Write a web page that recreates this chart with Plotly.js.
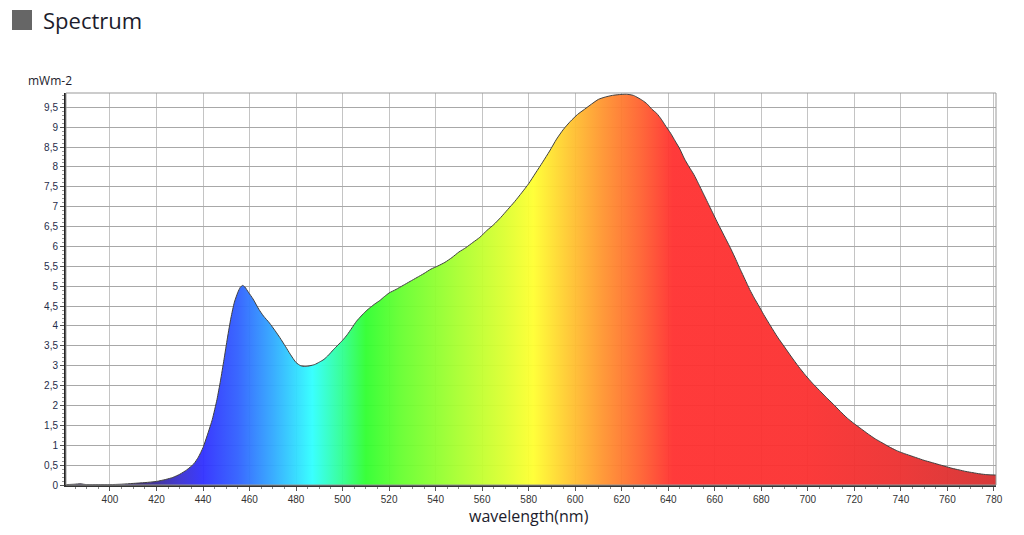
<!DOCTYPE html>
<html>
<head>
<meta charset="utf-8">
<script src="https://cdn.plot.ly/plotly-3.0.1.min.js"></script>
<style>
  html, body { margin: 0; padding: 0; background: #ffffff; }
  #chart { width: 1024px; height: 535px; }
</style>
</head>
<body>
<div id="chart"></div>
<script>
// Wavelength (nm)
const wavelength = [381,385,387,390,395,400,405,410,415,420,424,427,430,433,436,438,440,442,444,446,447.5,449,450.5,452,453.5,455,456,457,458,459.5,461.5,464,466,468.5,471,473,475.5,477.5,480,482,484,486,488,490,492,494,496,498,500,502,504,506,508,510,512,514,516,518,520,523,526,529,532,535,538,541,544,547,550,553,556,559,562,565,568,571,574,577,580,583,586,589,592,595,598,601,604,607,610,613,616,619,622,625,627,629,631,633,635,637,639,641,643,645,647,649,651,653,655,657,659,661,663,665,667,669,671,673,675,677,679,681,684,687,690,693,696,699,702,705,708,711,714,717,720,723,726,729,732,735,738,741,744,747,750,753,756,759,762,765,768,771,774,777,780.9];
// Irradiance (mWm-2)
const irradiance = [0.01,0.02,0.03,0.01,0.01,0.01,0.02,0.04,0.06,0.09,0.14,0.19,0.27,0.38,0.53,0.7,0.94,1.28,1.65,2.15,2.62,3.15,3.7,4.2,4.6,4.85,4.97,5.02,4.98,4.85,4.68,4.42,4.25,4.08,3.88,3.71,3.48,3.29,3.08,3.0,2.98,3.0,3.03,3.09,3.16,3.27,3.4,3.52,3.64,3.78,3.95,4.12,4.25,4.37,4.47,4.56,4.64,4.74,4.83,4.92,5.02,5.12,5.22,5.32,5.43,5.51,5.6,5.72,5.86,5.97,6.1,6.23,6.4,6.55,6.73,6.93,7.13,7.35,7.58,7.85,8.12,8.4,8.7,8.95,9.15,9.32,9.45,9.58,9.7,9.76,9.8,9.82,9.83,9.8,9.74,9.67,9.58,9.45,9.35,9.2,9.02,8.85,8.65,8.45,8.2,8.0,7.81,7.58,7.34,7.1,6.86,6.62,6.39,6.16,5.93,5.68,5.42,5.17,4.92,4.7,4.5,4.29,4.0,3.72,3.47,3.22,2.98,2.76,2.56,2.38,2.2,2.03,1.85,1.68,1.54,1.41,1.28,1.16,1.06,0.96,0.87,0.8,0.74,0.68,0.62,0.57,0.52,0.47,0.42,0.38,0.34,0.31,0.28,0.26,0.25];

const xTicks = [400,420,440,460,480,500,520,540,560,580,600,620,640,660,680,700,720,740,760,780];
const yTicks = [0,0.5,1,1.5,2,2.5,3,3.5,4,4.5,5,5.5,6,6.5,7,7.5,8,8.5,9,9.5];

// Spectrum colour stops (nm -> colour)
const gradNm = [381,415,430,440,455,470,487,500,510,525,550,570,582,597,612,628,642,700,740,781];
const gradCol = ['#2a2050','#3a2a80','#3a30d0','#3030ff','#3060ff','#30a8ff','#30ffff','#30ff90','#30ff30','#66ff30','#aaff30','#ddff30','#ffff30','#ffc830','#ff9430','#ff6230','#ff3030','#fb3030','#ec3030','#d43030'];

const X0 = 381.1, X1 = 780.9;
function hexA(h, a) {
  const r = parseInt(h.slice(1,3),16), g = parseInt(h.slice(3,5),16), b = parseInt(h.slice(5,7),16);
  return 'rgba(' + r + ',' + g + ',' + b + ',' + a + ')';
}
const colorscale = gradNm.map((nm, i) => [Math.min(1, Math.max(0, (nm - gradNm[0]) / (gradNm[gradNm.length-1] - gradNm[0]))), hexA(gradCol[i], 0.95)]);

const trace = {
  x: wavelength,
  y: irradiance,
  type: 'scatter',
  mode: 'lines',
  line: { color: '#404040', width: 1, shape: 'spline', smoothing: 0.6 },
  fill: 'tozeroy',
  fillgradient: { type: 'horizontal', colorscale: colorscale, start: gradNm[0], stop: gradNm[gradNm.length-1] },
  hoverinfo: 'x+y'
};

const font = 'Liberation Sans, Arial, sans-serif';

const layout = {
  width: 1024, height: 535,
  margin: { l: 66, r: 28, t: 93, b: 50 },
  paper_bgcolor: '#ffffff',
  plot_bgcolor: '#ffffff',
  separators: ',.',
  showlegend: false,
  xaxis: {
    range: [X0, X1],
    tickvals: xTicks,
    ticks: 'outside', ticklen: 4, tickcolor: '#555',
    minor: { dtick: 5, ticks: 'outside', ticklen: 2, tickcolor: '#888', showgrid: false },
    showgrid: true, gridcolor: '#c4c4c4', gridwidth: 1,
    showline: true, linecolor: '#333', linewidth: 1.5,
    zeroline: false,
    tickfont: { family: font, size: 10, color: '#333' }
  },
  yaxis: {
    range: [0, 9.86],
    tickvals: yTicks,
    ticks: 'outside', ticklen: 4, tickcolor: '#555',
    minor: { dtick: 0.1, ticks: 'outside', ticklen: 2, tickcolor: '#999', showgrid: false },
    showgrid: true, gridcolor: '#a8a8a8', gridwidth: 1,
    showline: true, linecolor: '#222', linewidth: 2,
    zeroline: false,
    tickfont: { family: font, size: 10, color: '#1f2d4a' }
  },
  shapes: [
    { type: 'rect', xref: 'paper', yref: 'paper', x0: 0, x1: 1, y0: 0, y1: 1, line: { color: '#999', width: 1 }, fillcolor: 'rgba(0,0,0,0)', layer: 'above' },
    { type: 'rect', xref: 'paper', yref: 'paper', xsizemode: 'pixel', ysizemode: 'pixel', xanchor: 0, yanchor: 1, x0: -54, x1: -34, y0: 83, y1: 63, fillcolor: '#666666', line: { width: 0 } }
  ],
  annotations: [
    { text: 'Spectrum', xref: 'paper', yref: 'paper', xanchor: 'left', yanchor: 'middle', x: 0, y: 1, xshift: -25, yshift: 73, showarrow: false, font: { family: 'Open Sans, sans-serif', size: 22, color: '#1c1c2c' } },
    { text: 'mWm-2', xref: 'paper', yref: 'paper', xanchor: 'left', yanchor: 'middle', x: 0, y: 1, xshift: -40, yshift: 13, showarrow: false, font: { family: 'Open Sans, sans-serif', size: 12, color: '#1c1c2c' } },
    { text: 'wavelength(nm)', xref: 'paper', yref: 'paper', xanchor: 'center', yanchor: 'middle', x: 0.5, y: 0, yshift: -31, xshift: -2, showarrow: false, font: { family: 'Open Sans, sans-serif', size: 16, color: '#1c1c2c' } }
  ]
};

Plotly.newPlot('chart', [trace], layout, { staticPlot: true, displayModeBar: false });
</script>
</body>
</html>
